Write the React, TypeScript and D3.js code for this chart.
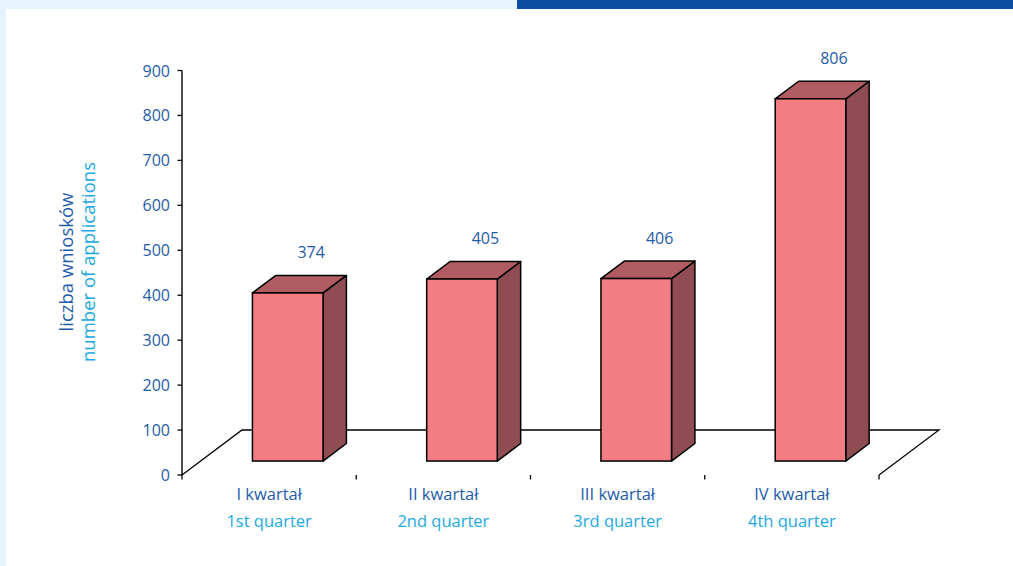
import React from "react";
import * as d3 from "d3";

const categoriesPL = ["I kwartał", "II kwartał", "III kwartał", "IV kwartał"];
const categoriesEN = ["1st quarter", "2nd quarter", "3rd quarter", "4th quarter"];
const values = [374, 405, 406, 806];
const yTicks = [0, 100, 200, 300, 400, 500, 600, 700, 800, 900];

const W = 1013;
const H = 566;
const DARK = "#1F5BA9";
const LIGHT = "#22A9E1";
const FONT = "'Open Sans', sans-serif";

export default function App() {
  const x0 = 182, x1 = 879;
  const x = d3.scaleBand<string>().domain(categoriesPL).range([x0, x1]).padding(0);
  const y = d3.scaleLinear().domain([0, 900]).range([475, 70.5]);
  const depthX = 60, depthY = 45;
  const d0 = 0.31, d1 = 0.70;
  const bw = x.bandwidth();
  const barW = bw * 0.405;
  const ddx = (d1 - d0) * depthX;
  const ddy = (d1 - d0) * depthY;
  const SW = 1.5;

  const floor = [
    [x0, y(0)],
    [x0 + depthX, y(0) - depthY],
    [x1 + depthX, y(0) - depthY],
    [x1, y(0)],
  ];

  return (
    <svg width={W} height={H} style={{ position: "absolute", left: 0, top: 0, background: "#fff" }}>
      <rect x={0} y={0} width={517} height={9} fill="#E6F5FD" />
      <rect x={517} y={0} width={W - 517} height={9} fill="#0B4DA0" />
      <rect x={0} y={0} width={6} height={H} fill="#E6F5FD" />

      {/* floor */}
      <path d={d3.line()(floor as [number, number][]) ?? ""} fill="none" stroke="#000" strokeWidth={1.3} />

      {/* y axis */}
      <line x1={x0} x2={x0} y1={y(900)} y2={y(0)} stroke="#000" strokeWidth={1.4} />
      {yTicks.map((t) => (
        <g key={t}>
          <line x1={x0 - 4.5} x2={x0} y1={y(t)} y2={y(t)} stroke="#000" strokeWidth={1.3} />
          <text x={170} y={y(t) + 6} textAnchor="end" fontFamily={FONT} fontSize={16} fill={DARK}>
            {t}
          </text>
        </g>
      ))}

      {/* x ticks */}
      {[...categoriesPL.map((c) => x(c) as number), x1].map((t, i) => (
        <line key={i} x1={t} x2={t} y1={y(0)} y2={y(0) + 4.5} stroke="#000" strokeWidth={1.3} />
      ))}

      {/* bars */}
      {categoriesPL.map((c, i) => {
        const v = values[i];
        const fl = (x(c) as number) + (bw - barW) / 2 + d0 * depthX;
        const fr = fl + barW;
        const fb = y(0) - d0 * depthY;
        const ft = y(v) - d0 * depthY;
        const side = [[fr, fb], [fr + ddx, fb - ddy], [fr + ddx, ft - ddy], [fr, ft]];
        const top = [[fl, ft], [fl + ddx, ft - ddy], [fr + ddx, ft - ddy], [fr, ft]];
        const poly = (p: number[][]) => "M" + p.map((q) => q.join(",")).join("L") + "Z";
        return (
          <g key={c}>
            <path d={poly(side)} fill="#8F4C52" stroke="#000" strokeWidth={SW} strokeLinejoin="round" />
            <path d={poly(top)} fill="#B05C62" stroke="#000" strokeWidth={SW} strokeLinejoin="round" />
            <rect x={fl} y={ft} width={barW} height={fb - ft} fill="#F27E83" stroke="#000" strokeWidth={SW} />
            <text x={(fl + fr) / 2 + ddx} y={ft - 35} textAnchor="middle" fontFamily={FONT} fontSize={16} fill={DARK}>
              {v}
            </text>
          </g>
        );
      })}

      {/* category labels */}
      {categoriesPL.map((c, i) => {
        const cx = (x(c) as number) + bw / 2;
        return (
          <g key={c}>
            <text x={cx} y={500} textAnchor="middle" fontFamily={FONT} fontSize={16.5} fill={DARK}>{c}</text>
            <text x={cx} y={527} textAnchor="middle" fontFamily={FONT} fontSize={16.5} fill={LIGHT}>{categoriesEN[i]}</text>
          </g>
        );
      })}

      {/* axis title */}
      <text transform="translate(73,262) rotate(-90)" textAnchor="middle" fontFamily={FONT} fontSize={18.5} fill={DARK}>
        liczba wniosków
      </text>
      <text transform="translate(95,262) rotate(-90)" textAnchor="middle" fontFamily={FONT} fontSize={18.5} fill={LIGHT}>
        number of applications
      </text>
    </svg>
  );
}
